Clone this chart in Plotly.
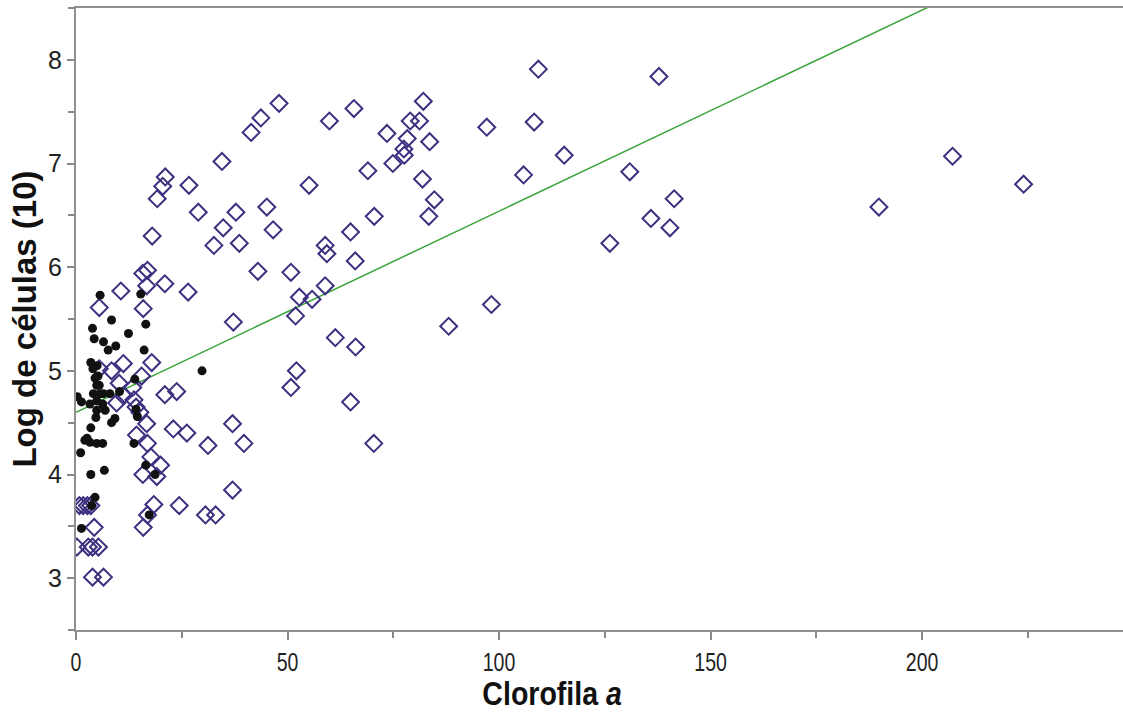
import plotly.graph_objects as go

# Open diamonds: (chlorophyll a, log cells)
diamond_x = [
    109.3, 137.8, 97.1, 108.3, 115.4, 105.8, 130.9, 141.4, 135.9, 140.4, 126.2, 98.2,
    207.2, 224.0, 189.8,
    48.0, 43.7, 41.4, 59.9, 65.7, 82.1, 79.0, 81.2, 73.5, 78.3, 83.6, 77.5, 77.6,
    74.9, 69.0, 81.9, 55.1, 84.7, 83.4, 70.5, 37.8, 45.1, 46.6, 38.6, 64.9, 58.9,
    59.3, 66.0, 43.0, 50.8, 34.5,
    52.8, 55.8, 58.9, 51.9, 61.3, 66.1, 88.1, 52.1, 50.8, 64.9, 70.4, 39.7,
    37.0, 26.2, 31.2, 37.0, 30.6, 33.0,
    21.1, 20.5, 19.2, 26.7, 28.9, 34.8, 18.0, 32.6, 15.8, 16.9, 10.6, 16.7, 21.0,
    26.5, 37.2, 15.9, 5.5,
    5.5, 8.4, 11.2, 17.9, 15.5, 10.2, 13.4, 11.2, 9.6, 21.0, 23.8, 13.7, 14.2,
    15.1, 16.7, 23.0, 14.3, 16.9, 17.7, 20.0, 15.8, 19.1, 18.4, 24.4, 16.9, 15.9,
    0.8, 1.7, 2.7, 3.5, 4.3, 0.2, 2.9, 3.9, 5.3, 3.9, 6.5,
]
diamond_y = [
    7.91, 7.84, 7.35, 7.40, 7.08, 6.89, 6.92, 6.66, 6.47, 6.38, 6.23, 5.64,
    7.07, 6.80, 6.58,
    7.58, 7.44, 7.30, 7.41, 7.53, 7.60, 7.41, 7.41, 7.29, 7.24, 7.21, 7.14, 7.08,
    7.00, 6.93, 6.85, 6.79, 6.65, 6.49, 6.49, 6.53, 6.58, 6.36, 6.23, 6.34, 6.21,
    6.13, 6.06, 5.96, 5.95, 7.02,
    5.71, 5.69, 5.82, 5.53, 5.32, 5.23, 5.43, 5.00, 4.84, 4.70, 4.30, 4.30,
    4.49, 4.40, 4.28, 3.85, 3.61, 3.61,
    6.87, 6.78, 6.66, 6.79, 6.53, 6.38, 6.30, 6.21, 5.94, 5.97, 5.77, 5.82, 5.84,
    5.76, 5.47, 5.60, 5.61,
    5.02, 5.00, 5.07, 5.08, 4.95, 4.88, 4.84, 4.76, 4.69, 4.77, 4.80, 4.72, 4.65,
    4.60, 4.49, 4.44, 4.38, 4.30, 4.17, 4.09, 4.00, 3.98, 3.71, 3.70, 3.61, 3.49,
    3.70, 3.70, 3.70, 3.70, 3.49, 3.30, 3.30, 3.30, 3.30, 3.01, 3.01,
]

# Filled circles
dot_x = [
    5.7, 15.3, 8.4, 16.5, 3.9, 4.3, 12.4, 6.5, 7.6, 9.4, 16.1, 3.5, 29.8, 4.5,
    13.9, 5.5, 4.9, 4.1, 5.7, 6.5, 8.0, 0.3, 1.3, 3.3, 4.9, 6.3, 4.9, 6.9, 4.7,
    8.4, 9.2, 3.5, 2.1, 3.3, 4.9, 6.3, 13.7, 14.5, 14.2, 1.1, 3.5, 6.7, 4.5, 3.7,
    1.3, 16.5, 18.7, 17.3, 4.0, 5.2, 2.6, 10.3, 5.0,
]
dot_y = [
    5.73, 5.74, 5.49, 5.45, 5.41, 5.31, 5.36, 5.28, 5.20, 5.24, 5.20, 5.08, 5.00,
    4.93, 4.92, 4.86, 4.86, 4.78, 4.78, 4.78, 4.78, 4.75, 4.70, 4.68, 4.71, 4.68,
    4.62, 4.62, 4.55, 4.50, 4.54, 4.45, 4.33, 4.31, 4.30, 4.30, 4.30, 4.56, 4.63,
    4.21, 4.00, 4.04, 3.78, 3.70, 3.48, 4.09, 4.00, 3.61, 5.02, 4.95, 4.35, 4.80,
    5.05,
]

# Linear fit
fit_intercept = 4.60
fit_slope = 0.0194
fit_x = [0, 250]
fit_y = [fit_intercept + fit_slope * v for v in fit_x]

x_ticks = [0, 50, 100, 150, 200]
y_ticks = [3, 4, 5, 6, 7, 8]

SANS = "Liberation Sans, Arial, sans-serif"

fig = go.Figure()
fig.add_trace(go.Scatter(
    x=fit_x, y=fit_y, mode="lines",
    line=dict(color="#3aa53a", width=1.5), hoverinfo="skip",
))
fig.add_trace(go.Scatter(
    x=diamond_x, y=diamond_y, mode="markers",
    marker=dict(symbol="diamond-open", size=13, color="#3f2f80",
                line=dict(width=2, color="#3f2f80")),
))
fig.add_trace(go.Scatter(
    x=dot_x, y=dot_y, mode="markers",
    marker=dict(symbol="circle", size=9, color="#111111", line=dict(width=0)),
))

fig.update_layout(
    width=1123, height=717,
    margin=dict(l=76, r=0, t=8, b=87),
    paper_bgcolor="white", plot_bgcolor="white",
    showlegend=False,
    xaxis=dict(
        range=[0, 247.5], tickvals=x_ticks, ticks="outside", ticklen=8,
        tickwidth=1.5, tickcolor="#888888",
        minor=dict(dtick=25, ticks="outside", ticklen=6, tickcolor="#888888", tickwidth=1.5),
        showline=True, linecolor="#909090", linewidth=2, mirror=True,
        showgrid=False, zeroline=False, automargin=False,
        tickfont=dict(family=SANS, size=26, color="#222222"),
    ),
    yaxis=dict(
        range=[2.5, 8.5], tickvals=y_ticks, ticks="outside", ticklen=7,
        tickwidth=1.5, tickcolor="#888888",
        minor=dict(dtick=0.5, ticks="outside", ticklen=6, tickcolor="#888888", tickwidth=1.5),
        showline=True, linecolor="#909090", linewidth=2,
        showgrid=False, zeroline=False, automargin=False,
        tickfont=dict(family=SANS, size=25, color="#222222"),
        title=dict(text="<b>Log de células (10)</b>", standoff=2,
                   font=dict(family=SANS, size=33, color="#111111")),
    ),
    annotations=[dict(
        text="<b>Clorofila <i>a</i></b>", xref="paper", yref="paper",
        x=0.4546, y=-0.1013, xanchor="center", yanchor="middle", showarrow=False,
        font=dict(family=SANS, size=34, color="#111111"),
    )],
)

# Horizontal-axis text is set in a narrow face: squeeze each label around its anchor.
narrow_js = """
var gd = document.getElementById('{plot_id}');
function squeeze(sel, k) {
    gd.querySelectorAll(sel).forEach(function (t) {
        var x = parseFloat(t.getAttribute('x')) || 0;
        var tr = t.getAttribute('transform') || '';
        t.setAttribute('transform', tr + ' translate(' + x + ',0) scale(' + k + ',1) translate(' + (-x) + ',0)');
    });
}
squeeze('.xtick text', 0.75);
squeeze('.annotation-text', 0.84);
"""

fig.write_html("out.html", post_script=narrow_js)
